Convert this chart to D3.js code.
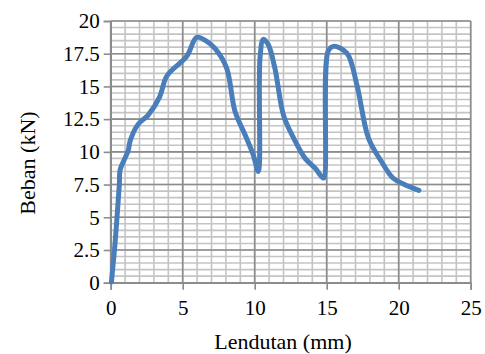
<!DOCTYPE html>
<html><head><meta charset="utf-8">
<script src="https://cdn.jsdelivr.net/npm/d3@7"></script>
<style>body{margin:0;background:#fff}svg{display:block}</style>
</head><body>
<script>
const xTicks = [0,5,10,15,20,25];
const yTicks = [0,2.5,5,7.5,10,12.5,15,17.5,20];
const yTickLabels = ["0","2.5","5","7.5","10","12.5","15","17.5","20"];
const lendutan = [0.05,0.11,0.3,0.49,0.6,0.65,0.88,1.22,1.34,1.9,2.6,3.4,3.9,5.28,5.97,6.6,7.24,8.05,8.63,9.33,9.9,10.25,10.37,10.6,10.94,11.4,12.0,12.7,13.5,14.2,14.65,14.8,15.1,15.46,16.4,17.1,17.9,18.8,19.6,20.4,21.4];
const beban =    [0.05,0.74,3.0,5.8,7.5,8.6,9.25,10.1,10.8,12.1,12.8,14.2,15.8,17.3,18.75,18.5,17.9,16.4,13.1,11.3,9.77,8.5,17.2,18.6,18.2,16.4,12.8,11.05,9.5,8.75,8.1,8.0,17.7,18.06,17.55,15.1,11.05,9.26,8.0,7.5,7.05];

const W=485,H=354;
const m={l:110.7,r:14.3,t:21,b:71.3};
const svg=d3.select("body").append("svg").attr("width",W).attr("height",H);
const x=d3.scaleLinear().domain([0,25]).range([m.l,W-m.r]);
const y=d3.scaleLinear().domain([0,20]).range([H-m.b,m.t]);

const g=svg.append("g");
const xMinor=d3.range(0,26,1), yMinor=d3.range(0,20.01,0.5);
g.selectAll(".vm").data(xMinor).join("line").attr("x1",d=>x(d)).attr("x2",d=>x(d)).attr("y1",y(0)).attr("y2",y(20)).attr("stroke","#c4c4c4").attr("stroke-width",1.6);
g.selectAll(".hm").data(yMinor).join("line").attr("y1",d=>y(d)).attr("y2",d=>y(d)).attr("x1",x(0)).attr("x2",x(25)).attr("stroke","#c4c4c4").attr("stroke-width",1.6);
g.selectAll(".vM").data(xTicks).join("line").attr("x1",d=>x(d)).attr("x2",d=>x(d)).attr("y1",y(0)).attr("y2",y(20)).attr("stroke","#8c8c8c").attr("stroke-width",1.6);
g.selectAll(".hM").data(yTicks).join("line").attr("y1",d=>y(d)).attr("y2",d=>y(d)).attr("x1",x(0)).attr("x2",x(25)).attr("stroke","#8c8c8c").attr("stroke-width",1.6);

const xa=svg.append("g").attr("transform",`translate(0,${y(0)})`)
 .call(d3.axisBottom(x).tickValues(xTicks).tickSize(7).tickPadding(10).tickFormat(d3.format("d")));
const ya=svg.append("g").attr("transform",`translate(${x(0)},0)`)
 .call(d3.axisLeft(y).tickValues(yTicks).tickSize(7).tickPadding(4).tickFormat((d,i)=>yTickLabels[i]));
[xa,ya].forEach(a=>{
 a.select(".domain").attr("stroke","#8c8c8c").attr("stroke-width",1.6);
 a.selectAll(".tick line").attr("stroke","#8c8c8c").attr("stroke-width",1.6);
 a.selectAll("text").attr("font-family","Liberation Serif").attr("font-size",21).attr("fill","#000");
});

svg.append("path").datum(lendutan.map((d,i)=>[d,beban[i]]))
 .attr("d",d3.line().x(d=>x(d[0])).y(d=>y(d[1])).curve(d3.curveCatmullRom.alpha(0.5)))
 .attr("fill","none").attr("stroke","#4a7ebb").attr("stroke-width",5)
 .attr("stroke-linejoin","round").attr("stroke-linecap","round");

svg.append("text").attr("x",283).attr("y",349).attr("text-anchor","middle")
 .attr("font-family","Liberation Serif").attr("font-size",22).text("Lendutan (mm)");
svg.append("text").attr("transform","translate(35,163) rotate(-90)").attr("text-anchor","middle")
 .attr("font-family","Liberation Serif").attr("font-size",22).text("Beban (kN)");
</script>
</body></html>
